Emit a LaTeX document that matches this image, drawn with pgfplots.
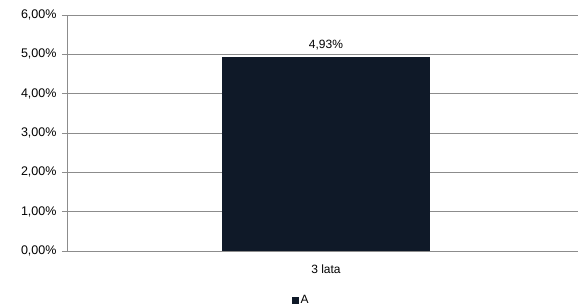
\documentclass[border=0pt]{standalone}
\usepackage{pgfplots}
\pgfplotsset{compat=1.18}
\usepackage{fontspec}
\setmainfont{Liberation Sans}
\definecolor{barc}{HTML}{0F1928}
\definecolor{gridc}{HTML}{8C8C8C}
\begin{document}
\begin{tikzpicture}
\begin{axis}[
  name=ax,
  scale only axis,
  width=511pt, height=236pt,
  xmin=-1.0137, xmax=0.9863,
  ymin=0, ymax=6,
  axis x line=bottom, axis y line=left,
  axis line style={gridc, -},
  ytick={0,1,2,3,4,5,6},
  yticklabels={{0,00\%},{1,00\%},{2,00\%},{3,00\%},{4,00\%},{5,00\%},{6,00\%}},
  xtick={0}, xticklabels={3 lata},
  x tick style={draw=none},
  y tick style={gridc, line width=0.8pt},
  tick align=outside,
  major tick length=5pt,
  ymajorgrids,
  grid style={gridc, line width=0.8pt},
  tick label style={font=\fontsize{12}{14}\selectfont, text=black},
  yticklabel style={xshift=-2pt, font=\fontsize{12.5}{14}\selectfont},
  xticklabel style={yshift=-5pt},
  ybar, bar width=208pt,
  nodes near coords,
  point meta=explicit symbolic,
  nodes near coords style={font=\fontsize{12}{14}\selectfont, text=black, yshift=4pt},
  legend style={at={(0.458,-0.17)}, anchor=north, draw=none, font=\fontsize{12}{14}\selectfont, legend columns=1},
  legend image code/.code={\fill[barc] (0pt,-3.5pt) rectangle (7pt,3.5pt);},
]
\addplot[fill=barc, draw=none] coordinates {(0,4.93) [4,93\%]};
\addlegendentry{A}
\end{axis}
\pgfresetboundingbox
\path[use as bounding box] ([shift={(-67pt,-57pt)}]ax.south west) rectangle ([shift={(3pt,15pt)}]ax.north east);
\end{tikzpicture}
\end{document}
